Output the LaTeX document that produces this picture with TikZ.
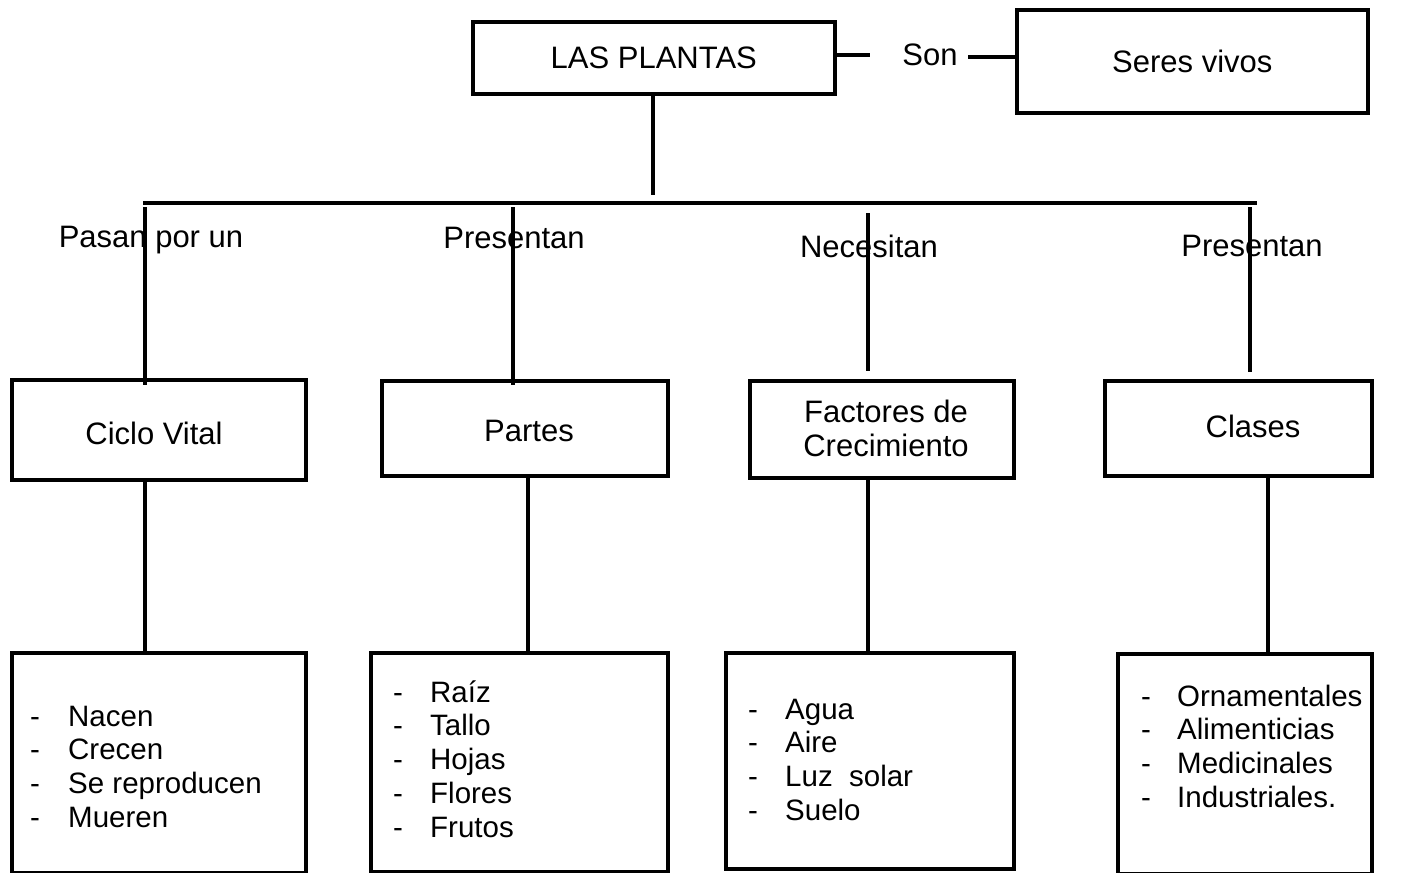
\documentclass[tikz,border=0pt]{standalone}
\usepackage{fontspec}
\setmainfont{Liberation Sans}
\begin{document}
\begin{tikzpicture}[x=1pt,y=-1pt,
  box/.style={draw,line width=3.6pt,inner sep=0pt,anchor=north west,font=\fontsize{31}{37}\selectfont,align=center},
  lbl/.style={inner sep=0pt,font=\fontsize{31}{37}\selectfont,align=center},
  lst/.style={inner sep=0pt,anchor=base west,font=\fontsize{29.5}{33.9}\selectfont},
  conn/.style={line width=3.4pt}]
\useasboundingbox (0,0) rectangle (1422,873);
% top
\node[box,minimum width=362pt,minimum height=72pt] (plantas) at (471,20) {LAS PLANTAS};
\node[box,minimum width=351pt,minimum height=103pt] (seres) at (1015,8) {Seres vivos};
\node[lbl] (son) at (930,55) {Son};
\coordinate (sonL) at (870,55);
\coordinate (sonR) at (968,57);
\draw[conn] (plantas.east |- sonL) -- (sonL);
\draw[conn] (sonR) -- (seres.west |- sonR);
% trunk and bar
\coordinate (trunk) at (653,195);
\draw[conn] (plantas.south -| trunk) -- (trunk);
\coordinate (barL) at (143,203);
\coordinate (barR) at (1257,203);
\draw[conn] (barL) -- (barR);
% middle boxes
\node[box,minimum width=294pt,minimum height=100pt] (ciclo) at (10,378) {};
\node[box,minimum width=286pt,minimum height=95pt] (partes) at (380,379) {};
\node[box,minimum width=264pt,minimum height=97pt] (factores) at (748,379) {};
\node[box,minimum width=267pt,minimum height=95pt] (clases) at (1103,379) {};
\node[lbl] (ciclotxt) at (154,433) {Ciclo Vital};
\node[lbl] (partestxt) at (529,431) {Partes};
\node[lbl] (factorestxt) at (886,428) {Factores de\\[-3pt]Crecimiento};
\node[lbl] (clasestxt) at (1253,426) {Clases};
% branch verticals
\coordinate (t1) at (145,207); \coordinate (e1) at (145,385);
\coordinate (t2) at (513,207); \coordinate (e2) at (513,385);
\coordinate (t3) at (868,213); \coordinate (e3) at (868,371);
\coordinate (t4) at (1250,207); \coordinate (e4) at (1250,372);
\draw[conn] (t1) -- (e1);
\draw[conn] (t2) -- (e2);
\draw[conn] (t3) -- (e3);
\draw[conn] (t4) -- (e4);
\node[lbl] (l1) at (151,240) {Pasan por un};
\node[lbl] (l2) at (514,238) {Presentan};
\node[lbl] (l3) at (869,246) {Necesitan};
\node[lbl] (l4) at (1252,246) {Presentan};
% bottom boxes
\node[box,minimum width=294pt,minimum height=220pt] (b1) at (10,651) {};
\node[box,minimum width=297pt,minimum height=219pt] (b2) at (369,651) {};
\node[box,minimum width=288pt,minimum height=216pt] (b3) at (724,651) {};
\node[box,minimum width=254pt,minimum height=220pt] (b4) at (1116,652) {};
\coordinate (v1) at (145,0); \coordinate (v2) at (528,0);
\coordinate (v3) at (868,0); \coordinate (v4) at (1268,0);
\draw[conn] (ciclo.south -| v1) -- (b1.north -| v1);
\draw[conn] (partes.south -| v2) -- (b2.north -| v2);
\draw[conn] (factores.south -| v3) -- (b3.north -| v3);
\draw[conn] (clases.south -| v4) -- (b4.north -| v4);
% lists
\node[lst] (list1) at (30,726) {\begin{tabular}[t]{@{}p{38pt}@{}l@{}}-&Nacen\\-&Crecen\\-&Se reproducen\\-&Mueren\end{tabular}};
\node[lst] (list2) at (393,702) {\begin{tabular}[t]{@{}p{37pt}@{}l@{}}-&Raíz\\-&Tallo\\-&Hojas\\-&Flores\\-&Frutos\end{tabular}};
\node[lst] (list3) at (748,719) {\begin{tabular}[t]{@{}p{37pt}@{}l@{}}-&Agua\\-&Aire\\-&Luz\ \ solar\\-&Suelo\end{tabular}};
\node[lst] (list4) at (1141,706) {\begin{tabular}[t]{@{}p{36pt}@{}l@{}}-&Ornamentales\\-&Alimenticias\\-&Medicinales\\-&Industriales.\end{tabular}};
\end{tikzpicture}
\end{document}
